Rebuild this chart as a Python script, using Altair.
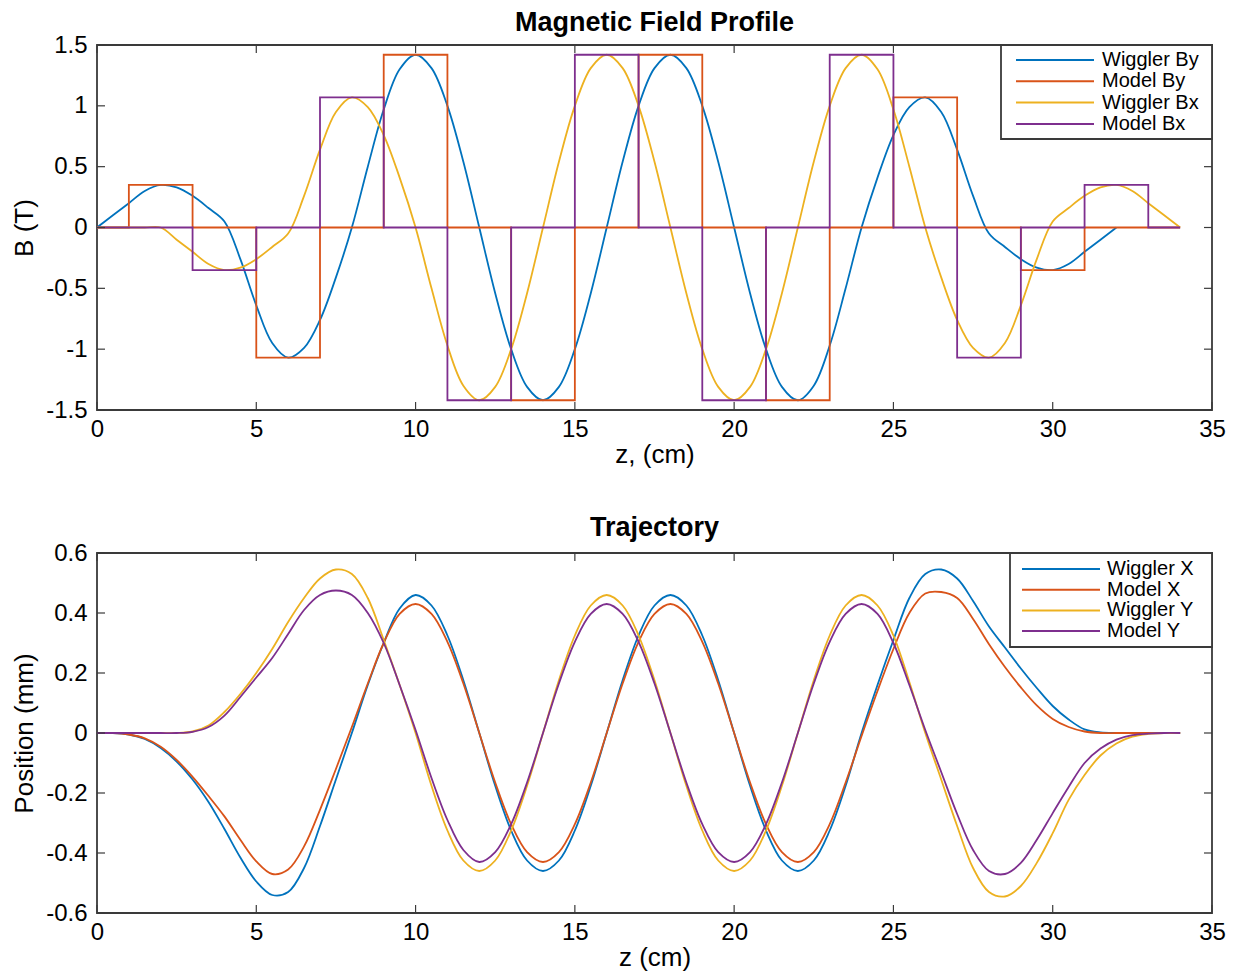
import altair as alt
import pandas as pd

# ---------------- data ----------------
z_by = [i * 0.5 for i in range(65)]          # 0 .. 32 cm
wiggler_by = [
    0.00, 0.10, 0.20, 0.30, 0.35,
    0.33, 0.26, 0.16, 0.05, -0.26, -0.64, -0.95, -1.07,
    -0.99, -0.76, -0.41, 0.00, 0.50, 0.97, 1.30, 1.42,
    1.31, 1.00, 0.54, 0.00, -0.54, -1.00, -1.31, -1.42,
    -1.31, -1.00, -0.54, 0.00, 0.54, 1.00, 1.31, 1.42,
    1.31, 1.00, 0.54, 0.00, -0.54, -1.00, -1.31, -1.42,
    -1.30, -0.97, -0.50, 0.00, 0.41, 0.76, 0.99, 1.07,
    0.95, 0.64, 0.26, -0.05, -0.16, -0.26, -0.33, -0.35,
    -0.30, -0.20, -0.10, 0.00,
]
z_bx = [i * 0.5 for i in range(69)]          # 0 .. 34 cm
wiggler_bx = [
    0.00, 0.00, 0.00, 0.00, 0.00,
    -0.10, -0.20, -0.30, -0.35, -0.33, -0.26, -0.16, -0.05,
    0.26, 0.64, 0.95, 1.07, 0.99, 0.76, 0.41, 0.00,
    -0.50, -0.97, -1.30, -1.42, -1.31, -1.00, -0.54, 0.00,
    0.54, 1.00, 1.31, 1.42, 1.31, 1.00, 0.54, 0.00,
    -0.54, -1.00, -1.31, -1.42, -1.31, -1.00, -0.54, 0.00,
    0.54, 1.00, 1.31, 1.42, 1.30, 0.97, 0.50, 0.00,
    -0.41, -0.76, -0.99, -1.07, -0.95, -0.64, -0.26, 0.05,
    0.16, 0.26, 0.33, 0.35, 0.30, 0.20, 0.10, 0.00,
]
model_by_z = [0, 1, 3, 5, 7, 9, 11, 13, 15, 17, 19, 21, 23, 25, 27, 29, 31, 34]
model_by = [0, 0.35, 0, -1.07, 0, 1.42, 0, -1.42, 0, 1.42, 0, -1.42, 0, 1.07, 0, -0.35, 0, 0]
model_bx_z = [0, 3, 5, 7, 9, 11, 13, 15, 17, 19, 21, 23, 25, 27, 29, 31, 33, 34]
model_bx = [0, -0.35, 0, 1.07, 0, -1.42, 0, 1.42, 0, -1.42, 0, 1.42, 0, -1.07, 0, 0.35, 0, 0]

z_traj = [i * 0.5 for i in range(69)]        # 0 .. 34 cm
wiggler_x = [
    0.0, 0.0, -0.005, -0.02, -0.05,
    -0.095, -0.155, -0.23, -0.32, -0.415, -0.495, -0.54, -0.53,
    -0.45, -0.31, -0.155, 0.0, 0.16, 0.30, 0.415, 0.46,
    0.425, 0.325, 0.176, 0.0, -0.176, -0.325, -0.425, -0.46,
    -0.425, -0.325, -0.176, 0.0, 0.176, 0.325, 0.425, 0.46,
    0.425, 0.325, 0.176, 0.0, -0.176, -0.325, -0.425, -0.46,
    -0.425, -0.325, -0.176, 0.0, 0.16, 0.31, 0.45, 0.53,
    0.545, 0.515, 0.44, 0.355, 0.285, 0.215, 0.15, 0.09,
    0.045, 0.012, 0.002, 0.0, 0.0, 0.0, 0.0, 0.0,
]
model_x = [
    0.0, 0.0, -0.005, -0.018, -0.046,
    -0.09, -0.146, -0.21, -0.278, -0.356, -0.428, -0.47, -0.455,
    -0.378, -0.256, -0.12, 0.02, 0.165, 0.30, 0.397, 0.43,
    0.397, 0.304, 0.165, 0.0, -0.165, -0.304, -0.397, -0.43,
    -0.397, -0.304, -0.165, 0.0, 0.165, 0.304, 0.397, 0.43,
    0.397, 0.304, 0.165, 0.0, -0.165, -0.304, -0.397, -0.43,
    -0.397, -0.304, -0.165, -0.01, 0.14, 0.28, 0.40, 0.465,
    0.47, 0.45, 0.38, 0.296, 0.22, 0.152, 0.092, 0.047,
    0.02, 0.005, 0.0, 0.0, 0.0, 0.0, 0.0, 0.0,
]
wiggler_y = [
    0.0, 0.0, 0.0, 0.0, 0.0,
    0.0, 0.005, 0.025, 0.07, 0.13, 0.20, 0.28, 0.37,
    0.45, 0.515, 0.545, 0.53, 0.45, 0.31, 0.16, 0.0,
    -0.176, -0.325, -0.425, -0.46, -0.425, -0.325, -0.176, 0.0,
    0.176, 0.325, 0.425, 0.46, 0.425, 0.325, 0.176, 0.0,
    -0.176, -0.325, -0.425, -0.46, -0.425, -0.325, -0.176, 0.0,
    0.176, 0.325, 0.425, 0.46, 0.425, 0.325, 0.17, 0.0,
    -0.155, -0.31, -0.45, -0.53, -0.545, -0.51, -0.433, -0.334,
    -0.223, -0.14, -0.075, -0.035, -0.012, -0.003, 0.0, 0.0,
]
model_y = [
    0.0, 0.0, 0.0, 0.0, 0.0,
    0.0, 0.004, 0.02, 0.058, 0.12, 0.185, 0.25, 0.33,
    0.41, 0.46, 0.475, 0.46, 0.40, 0.30, 0.16, 0.01,
    -0.15, -0.29, -0.39, -0.43, -0.397, -0.304, -0.165, 0.0,
    0.165, 0.304, 0.397, 0.43, 0.397, 0.304, 0.165, 0.0,
    -0.165, -0.304, -0.397, -0.43, -0.397, -0.304, -0.165, 0.0,
    0.165, 0.304, 0.397, 0.43, 0.397, 0.30, 0.16, 0.01,
    -0.13, -0.27, -0.39, -0.46, -0.47, -0.433, -0.356, -0.267,
    -0.18, -0.10, -0.052, -0.022, -0.007, -0.002, 0.0, 0.0,
]

x_ticks = [0, 5, 10, 15, 20, 25, 30, 35]
b_ticks = [-1.5, -1, -0.5, 0, 0.5, 1, 1.5]
pos_ticks = [-0.6, -0.4, -0.2, 0, 0.2, 0.4, 0.6]
field_names = ["Wiggler By", "Model By", "Wiggler Bx", "Model Bx"]
traj_names = ["Wiggler X", "Model X", "Wiggler Y", "Model Y"]
colors = ["#0072BD", "#D95319", "#EDB120", "#7E2F8E"]

# ---------------- style ----------------
FONT = "Liberation Sans"
FRAME = "#3a3a3a"
W = 1115
TICK = 8


def panel(series, names, yticks, ydomain, ytitle, xtitle, title, H,
          title_offset, leg_x0, leg_line, leg_text, leg_rows, leg_h):
    xs = alt.Scale(domain=[0, 35], nice=False, zero=False)
    ys = alt.Scale(domain=ydomain, nice=False, zero=False)
    xaxis = alt.Axis(values=x_ticks, title=xtitle, ticks=False, domain=False,
                     grid=False, labelExpr="'' + datum.value",
                     labelFontSize=24, titleFontSize=26, labelPadding=7,
                     titlePadding=0, labelFont=FONT, titleFont=FONT,
                     labelColor="black", titleColor="black",
                     titleFontWeight="normal", labelFlush=False)
    yaxis = alt.Axis(values=yticks, title=ytitle, ticks=False, domain=False,
                     grid=False, labelExpr="'' + datum.value",
                     labelFontSize=24, titleFontSize=26, labelPadding=10,
                     titlePadding=8, labelFont=FONT, titleFont=FONT,
                     labelColor="black", titleColor="black",
                     titleFontWeight="normal")

    def X(f):
        return alt.X(f"{f}:Q", scale=xs, axis=xaxis)

    def Y(f):
        return alt.Y(f"{f}:Q", scale=ys, axis=yaxis)

    layers = []
    for (zv, vv, interp), color in zip(series, colors):
        df = pd.DataFrame({"z": zv, "v": vv})
        layers.append(
            alt.Chart(df).mark_line(color=color, strokeWidth=1.8,
                                    interpolate=interp, clip=True)
            .encode(x=X("z"), y=Y("v"))
        )

    xt = pd.DataFrame({"z": x_ticks})
    yt = pd.DataFrame({"v": yticks})
    layers.append(alt.Chart(xt).mark_rule(color=FRAME, strokeWidth=1.2)
                  .encode(x=X("z"), y=alt.value(H), y2=alt.value(H - TICK)))
    layers.append(alt.Chart(xt).mark_rule(color=FRAME, strokeWidth=1.2)
                  .encode(x=X("z"), y=alt.value(0), y2=alt.value(TICK)))
    layers.append(alt.Chart(yt).mark_rule(color=FRAME, strokeWidth=1.2)
                  .encode(y=Y("v"), x=alt.value(0), x2=alt.value(TICK)))
    layers.append(alt.Chart(yt).mark_rule(color=FRAME, strokeWidth=1.2)
                  .encode(y=Y("v"), x=alt.value(W), x2=alt.value(W - TICK)))

    # legend (drawn inside the plot, top-right)
    leg = pd.DataFrame({"name": names, "row": [0, 1, 2, 3], "color": colors})
    layers.append(alt.Chart(pd.DataFrame({"a": [0]}))
                  .mark_rect(fill="white", stroke=FRAME, strokeWidth=1.8)
                  .encode(x=alt.value(leg_x0), x2=alt.value(W),
                          y=alt.value(0), y2=alt.value(leg_h)))
    ycalc = f"{leg_rows[0]} + datum.row * {leg_rows[1]}"
    layers.append(alt.Chart(leg).transform_calculate(py=ycalc)
                  .mark_rule(strokeWidth=2)
                  .encode(x=alt.value(leg_line[0]), x2=alt.value(leg_line[1]),
                          y=alt.Y("py:Q", scale=None, axis=None),
                          color=alt.Color("color:N", scale=None)))
    layers.append(alt.Chart(leg).transform_calculate(py=ycalc)
                  .mark_text(align="left", baseline="middle", font=FONT,
                             fontSize=20, color="black")
                  .encode(x=alt.value(leg_text),
                          y=alt.Y("py:Q", scale=None, axis=None),
                          text="name:N"))

    return alt.layer(*layers).properties(
        width=W, height=H,
        title=alt.TitleParams(title, fontSize=27, font=FONT, fontWeight="bold",
                              color="black", anchor="middle",
                              offset=title_offset),
    )


top = panel(
    [(z_by, wiggler_by, "catmull-rom"),
     (model_by_z, model_by, "step-after"),
     (z_bx, wiggler_bx, "catmull-rom"),
     (model_bx_z, model_bx, "step-after")],
    field_names, b_ticks, [-1.5, 1.5], "B (T)", "z, (cm)",
    "Magnetic Field Profile", 365, -4,
    904, (919, 997), 1005, (15, 21.3), 94,
)
bottom = panel(
    [(z_traj, wiggler_x, "catmull-rom"),
     (z_traj, model_x, "catmull-rom"),
     (z_traj, wiggler_y, "catmull-rom"),
     (z_traj, model_y, "catmull-rom")],
    traj_names, pos_ticks, [-0.6, 0.6], "Position (mm)", "z (cm)",
    "Trajectory", 360, -1,
    913, (925, 1003), 1010, (16, 20.7), 94,
)

chart = alt.vconcat(top, bottom, spacing=45).properties(
    padding={"left": 2, "top": 0, "right": 0, "bottom": 0}
).configure_view(stroke=FRAME, strokeWidth=1.8)

chart.save("out.html", embed_options={"renderer": "svg", "actions": False})
